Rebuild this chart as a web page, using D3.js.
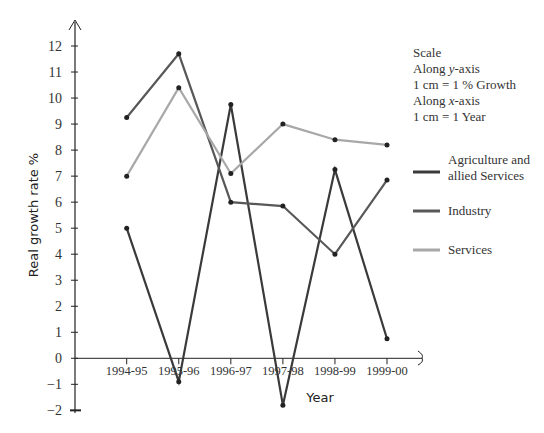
<!DOCTYPE html>
<html><head><meta charset="utf-8">
<script src="https://cdn.jsdelivr.net/npm/d3@7"></script>
<style>body{margin:0;background:#fff}</style>
</head><body>
<svg id="chart" width="544" height="433"></svg>
<script>
const years = ["1994-95","1995-96","1996-97","1997-98","1998-99","1999-00"];
const agriculture = [5.0, -0.9, 9.75, -1.8, 7.25, 0.75];
const industry = [9.25, 11.7, 6.0, 5.85, 4.0, 6.85];
const services = [7.0, 10.4, 7.1, 9.0, 8.4, 8.2];
const yTicks = [-2,-1,0,1,2,3,4,5,6,7,8,9,10,11,12];

const svg = d3.select("#chart");
const serif = "Liberation Serif, DejaVu Serif, serif";

const x = d3.scalePoint().domain(years).range([126.7, 387]);
const y = d3.scaleLinear().domain([0, 12]).range([358.3, 46]);

// y axis
svg.append("line").attr("x1",75).attr("x2",75).attr("y1",22).attr("y2",y(-2.1))
  .attr("stroke","#222").attr("stroke-width",1.2);
svg.append("path").attr("d","M69,30 L75,20 L81,30").attr("fill","none").attr("stroke","#222");
yTicks.forEach(function(t){
  svg.append("line").attr("x1", t===-2?70:71).attr("x2", t===-2?81:78)
    .attr("y1",y(t)).attr("y2",y(t)).attr("stroke","#222").attr("stroke-width", t===-2?2:1);
  svg.append("text").attr("x",62).attr("y",y(t)+5).attr("text-anchor","end")
    .attr("font-family",serif).attr("font-size",14).attr("fill","#333")
    .text(t<0 ? "\u2212"+(-t) : t);
});

// x axis
svg.append("line").attr("x1",75).attr("x2",422).attr("y1",y(0)).attr("y2",y(0))
  .attr("stroke","#222").attr("stroke-width",1);
svg.append("path").attr("d","M418,351 Q424,355 422,358 Q424,362 418,365").attr("fill","none").attr("stroke","#222");
years.forEach(function(yr){
  svg.append("line").attr("x1",x(yr)).attr("x2",x(yr)).attr("y1",y(0)).attr("y2",y(0)+6)
    .attr("stroke","#222");
  svg.append("text").attr("x",x(yr)).attr("y",y(0)+17).attr("text-anchor","middle")
    .attr("font-family",serif).attr("font-size",12.5).attr("fill","#333").text(yr);
});

svg.append("text").attr("x",320).attr("y",402).attr("text-anchor","middle")
  .attr("font-family","DejaVu Sans, sans-serif").attr("font-size",13).attr("fill","#222").text("Year");
svg.append("text").attr("transform","translate(38,215) rotate(-90)").attr("text-anchor","middle")
  .attr("font-family","DejaVu Sans, sans-serif").attr("font-size",13).attr("fill","#222").text("Real growth rate %");

const series = [
  {name:["Agriculture and","allied Services"], values:agriculture, color:"#3a3a3a", ly:172},
  {name:["Industry"], values:industry, color:"#585858", ly:211},
  {name:["Services"], values:services, color:"#a8a8a8", ly:250}
];
const line = d3.line().x((d,i)=>x(years[i])).y(d=>y(d));

series.forEach(function(s){
  svg.append("path").datum(s.values).attr("d",line).attr("fill","none")
    .attr("stroke",s.color).attr("stroke-width",2.2);
  svg.selectAll(null).data(s.values).enter().append("circle")
    .attr("cx",(d,i)=>x(years[i])).attr("cy",d=>y(d)).attr("r",2.5).attr("fill","#222");
  svg.append("line").attr("x1",413).attr("x2",440).attr("y1",s.ly).attr("y2",s.ly)
    .attr("stroke",s.color).attr("stroke-width",3);
  s.name.forEach(function(n,k){
    svg.append("text").attr("x",448).attr("y",s.ly+4+(s.name.length>1?(k*16-12):0))
      .attr("font-family",serif).attr("font-size",13).attr("fill","#333").text(n);
  });
});

// scale note
const scaleLines = [["Scale"],["Along ",["y"],"-axis"],["1 cm = 1 % Growth"],["Along ",["x"],"-axis"],["1 cm = 1 Year"]];
scaleLines.forEach(function(parts,i){
  const t = svg.append("text").attr("x",413).attr("y",57+i*16)
    .attr("font-family",serif).attr("font-size",13).attr("fill","#333");
  parts.forEach(function(p){
    if (Array.isArray(p)) t.append("tspan").attr("font-style","italic").text(p[0]);
    else t.append("tspan").text(p);
  });
});
</script>
</body></html>
